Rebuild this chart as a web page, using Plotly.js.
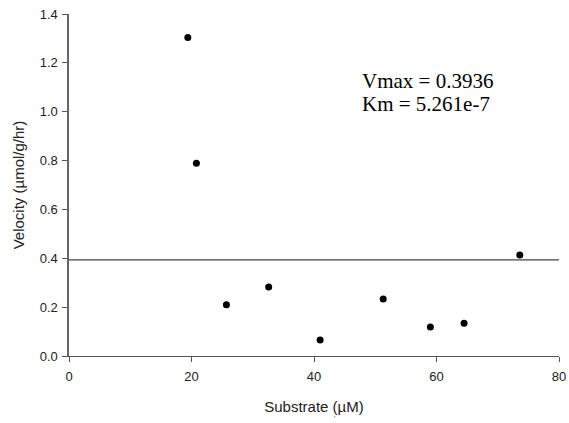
<!DOCTYPE html>
<html>
<head>
<meta charset="utf-8">
<script src="https://cdn.plot.ly/plotly-3.0.1.min.js"></script>
<style>html,body{margin:0;padding:0;background:#fff;}#chart{width:569px;height:423px;}</style>
</head>
<body>
<div id="chart"></div>
<script>
// Data
const substrate = [19.4, 20.8, 25.7, 32.6, 41.0, 51.3, 59.0, 64.5, 73.6];
const velocity  = [1.304, 0.789, 0.210, 0.282, 0.066, 0.233, 0.119, 0.134, 0.413];
const vmax = 0.3936;
const kmText = "5.261e-7";
const xTicks = [0, 20, 40, 60, 80];
const yTicks = [0.0, 0.2, 0.4, 0.6, 0.8, 1.0, 1.2, 1.4];
const yTickLabels = ["0.0", "0.2", "0.4", "0.6", "0.8", "1.0", "1.2", "1.4"];

const trace = {
  x: substrate, y: velocity, type: 'scatter', mode: 'markers',
  marker: {color: '#000', size: 7}, hoverinfo: 'skip', cliponaxis: false
};

const axisFont = {family: 'Liberation Sans, Arial, sans-serif', size: 13, color: '#222'};
const titleFont = {family: 'Liberation Sans, Arial, sans-serif', size: 15, color: '#222'};

const layout = {
  width: 569, height: 423,
  margin: {l: 69, r: 10, t: 14, b: 66.5, pad: 0},
  paper_bgcolor: '#fff', plot_bgcolor: '#fff',
  showlegend: false,
  font: axisFont,
  xaxis: {
    range: [0, 80], tickvals: xTicks, ticktext: xTicks.map(String),
    ticks: 'outside', ticklen: 5, tickcolor: '#555', tickwidth: 1,
    ticklabelstandoff: 3,
    showline: true, linecolor: '#555', linewidth: 1.3,
    showgrid: false, zeroline: false, tickfont: axisFont,
    title: {text: 'Substrate (µM)', font: titleFont, standoff: 18}
  },
  yaxis: {
    range: [0, 1.4], tickvals: yTicks, ticktext: yTickLabels,
    ticks: 'outside', ticklen: 5, tickcolor: '#555', tickwidth: 1,
    ticklabelstandoff: 2,
    showline: true, linecolor: '#666', linewidth: 1.6,
    showgrid: false, zeroline: false, tickfont: axisFont,
    title: {text: 'Velocity (µmol/g/hr)', font: titleFont, standoff: 11}
  },
  shapes: [{
    type: 'line', xref: 'paper', x0: 0, x1: 1, yref: 'y', y0: vmax, y1: vmax,
    line: {color: '#444', width: 1.3}
  }],
  annotations: [
    {text: 'Vmax = ' + vmax, xref: 'x', yref: 'y', x: 47.5, y: 1.1265,
     xanchor: 'left', yanchor: 'middle', showarrow: false,
     font: {family: 'Liberation Serif, Times New Roman, serif', size: 21, color: '#000'}},
    {text: 'Km = ' + kmText, xref: 'x', yref: 'y', x: 47.5, y: 1.031,
     xanchor: 'left', yanchor: 'middle', showarrow: false,
     font: {family: 'Liberation Serif, Times New Roman, serif', size: 21, color: '#000'}},
    {text: "'", xref: 'paper', yref: 'paper', x: 0.542, y: -0.168,
     xanchor: 'center', yanchor: 'top', showarrow: false,
     font: {family: 'Liberation Sans, Arial, sans-serif', size: 7, color: '#333'}}
  ]
};

Plotly.newPlot('chart', [trace], layout, {staticPlot: true, displayModeBar: false});
</script>
</body>
</html>
